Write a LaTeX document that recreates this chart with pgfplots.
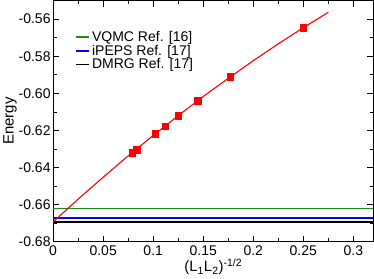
\documentclass[border=0pt]{standalone}
\usepackage{pgfplots}
\pgfplotsset{compat=1.18}
\usepackage{fontspec}
\setmainfont{Liberation Sans}
\definecolor{refgreen}{rgb}{0.1,0.55,0.1}
\begin{document}
\begin{tikzpicture}
\begin{axis}[
    scale only axis,
    width=320pt, height=241pt,
    xmin=0, xmax=0.32,
    ymin=-0.68, ymax=-0.55,
    xtick={0,0.05,0.1,0.15,0.2,0.25,0.3},
    ytick={-0.68,-0.66,-0.64,-0.62,-0.60,-0.58,-0.56},
    minor x tick num=1,
    minor y tick num=1,
    tick align=inside,
    major tick length=6pt,
    minor tick length=3.5pt,
    tick style={black, line width=0.8pt},
    axis line style={line width=1.2pt},
    font=\fontsize{14}{16}\selectfont,
    /pgf/number format/assume math mode=true,
    xticklabel style={/pgf/number format/fixed, /pgf/number format/precision=2},
    yticklabel style={/pgf/number format/fixed, /pgf/number format/fixed zerofill, /pgf/number format/precision=2, xshift=1pt},
    xlabel={(L\textsubscript{1}L\textsubscript{2})\textsuperscript{-1/2}},
    ylabel={Energy},
    xlabel style={yshift=3pt, font=\fontsize{15}{17}\selectfont},
    ylabel style={yshift=-5pt, font=\fontsize{15}{17}\selectfont},
    legend style={draw=none, fill=none, at={(0.06,0.89)}, anchor=north west,
        font=\fontsize{14}{16}\selectfont, row sep=-2pt},
    legend cell align=left,
    legend image code/.code={\draw[#1] (0pt,0pt) -- (13pt,0pt);},
]
\addplot[refgreen, line width=1.5pt] coordinates {(0,-0.6621) (0.32,-0.6621)};
\addlegendentry{VQMC Ref. [16]}
\addplot[blue, line width=1.5pt] coordinates {(0,-0.6672) (0.32,-0.6672)};
\addlegendentry{iPEPS Ref. [17]}
\addplot[black, line width=1.5pt] coordinates {(0,-0.6692) (0.32,-0.6692)};
\addlegendentry{DMRG Ref. [17]}
% fit curve
\addplot[red, line width=1.1pt, forget plot] coordinates {
    (0,-0.6693) (0.025,-0.6570) (0.05,-0.6452) (0.075,-0.6337)
    (0.1,-0.6227) (0.125,-0.6120) (0.15,-0.6017) (0.175,-0.5919)
    (0.2,-0.5824) (0.225,-0.5733) (0.25,-0.5646) (0.275,-0.5563)
};
% data
\addplot[only marks, mark=square*, mark size=3.3pt, red, forget plot] coordinates {
    (0.0791,-0.6319) (0.0833,-0.6302) (0.1021,-0.6217) (0.1118,-0.6176)
    (0.125,-0.6120) (0.1443,-0.6038) (0.1768,-0.5909) (0.25,-0.5646)
};
\end{axis}
\end{tikzpicture}
\end{document}
